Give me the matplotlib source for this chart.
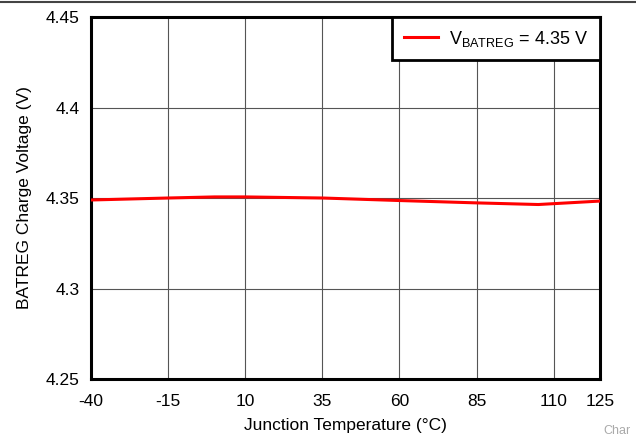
import matplotlib.pyplot as plt
from matplotlib.lines import Line2D

# data
temps = [-40, -15, 0, 10, 35, 60, 85, 105, 125]
vbatreg = [4.3489, 4.3500, 4.3506, 4.3506, 4.3500, 4.3486, 4.3473, 4.3464, 4.3483]
xticks = [-40, -15, 10, 35, 60, 85, 110, 125]
xlabels = ['-40', '-15', '10', '35', '60', '85', '110', '125']
yticks = [4.25, 4.3, 4.35, 4.4, 4.45]
ylabels = ['4.25', '4.3', '4.35', '4.4', '4.45']

plt.rcParams['font.family'] = ['Liberation Sans', 'DejaVu Sans']

fig = plt.figure(figsize=(6.36, 4.37), dpi=100)
ax = fig.add_axes([91/636, 1 - 379/437, 509/636, 362/437])

ax.plot(temps, vbatreg, color='#ff0000', lw=2.2, label=r'V$_{\mathregular{BATREG}}$ = 4.35 V', zorder=3)

ax.set_xlim(-40, 125)
ax.set_ylim(4.25, 4.45)
ax.set_xticks(xticks)
ax.set_xticklabels(xlabels)
ax.set_yticks(yticks)
ax.set_yticklabels(ylabels)
ax.grid(True, color='#555555', lw=0.8)
ax.tick_params(length=0, labelsize=12.5)
ax.tick_params(axis='y', pad=8)
ax.tick_params(axis='x', pad=11)
for s in ax.spines.values():
    s.set_linewidth(2.2)

ax.set_xlabel('Junction Temperature (°C)', fontsize=12.5, labelpad=6)
ax.set_ylabel('BATREG Charge Voltage (V)', fontsize=12.5, labelpad=10)

leg = ax.legend(loc='upper right', fontsize=13, fancybox=False, framealpha=1,
                borderaxespad=0, handlelength=1.9, borderpad=0.65, handletextpad=0.6)
leg.get_frame().set_edgecolor('black')
leg.get_frame().set_linewidth(2)

fig.add_artist(Line2D([0, 1], [1 - 1.5/437, 1 - 1.5/437], color='#444444', lw=1.5))
fig.text(617/636, 1 - 434/437, 'Char', fontsize=9, color='#aaaaaa', ha='center', va='baseline')

fig.savefig('out.png', dpi=100)
